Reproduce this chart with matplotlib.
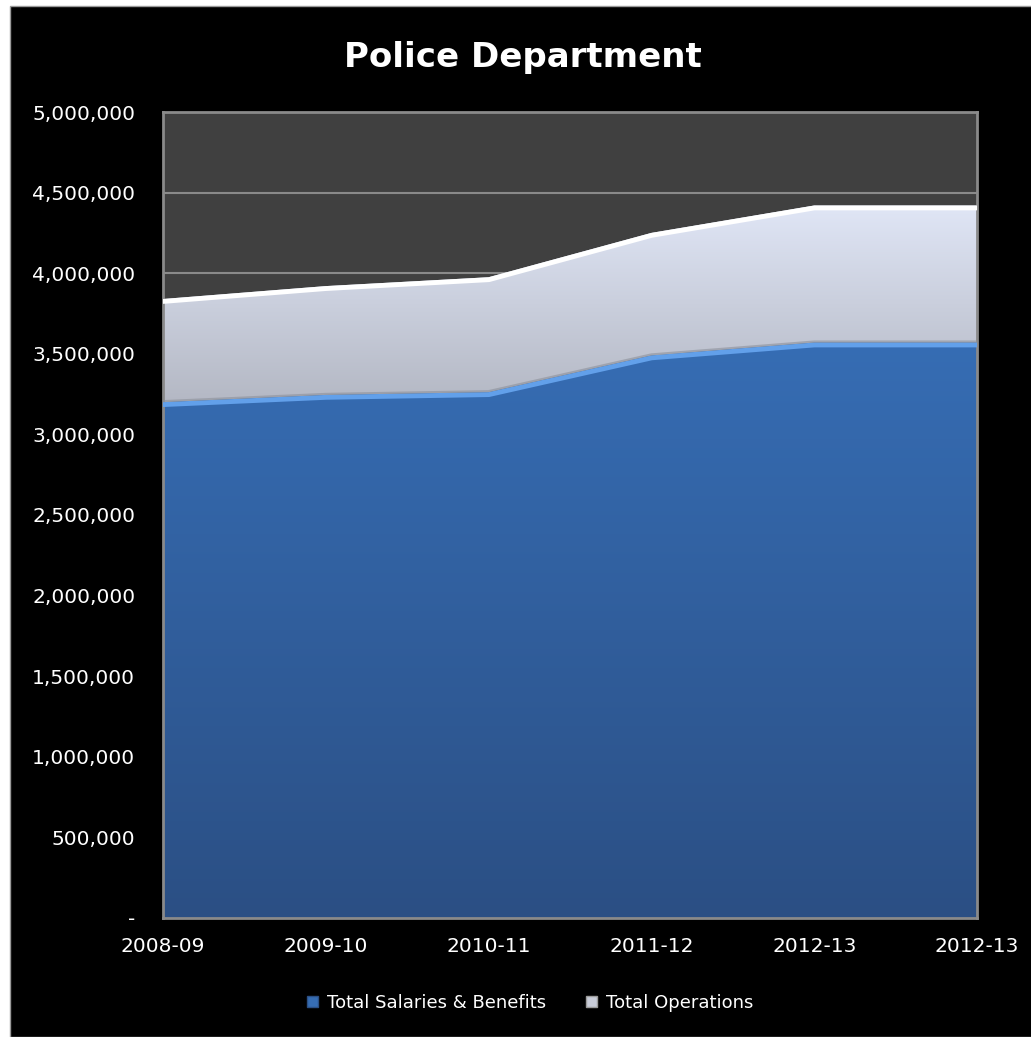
import numpy as np
import matplotlib.pyplot as plt
from matplotlib.colors import to_rgb
from matplotlib.patches import Patch, Rectangle
from matplotlib.ticker import FuncFormatter

years = ["2008-09", "2009-10", "2010-11", "2011-12", "2012-13", "2012-13"]
salaries = [3200000, 3245000, 3262000, 3490000, 3570000, 3570000]
operations = [640000, 675000, 713000, 760000, 850000, 850000]

BLUE_TOP, BLUE_BOT = "#366db4", "#2b4f84"
OPS_TOP, OPS_BOT = "#e0e6f6", "#b4b8c4"


def gradient_fill(ax, x, lower, upper, c_top, c_bot, edge, shadow=None):
    poly = ax.fill_between(x, lower, upper, facecolor="none", edgecolor="none", zorder=2)
    path = poly.get_paths()[0]
    hi, lo = max(upper), min(lower)
    grad = np.linspace(0, 1, 256).reshape(-1, 1, 1)
    ct, cb = np.array(to_rgb(c_top)), np.array(to_rgb(c_bot))
    img = cb + (ct - cb) * grad * np.ones((1, 2, 3))
    im = ax.imshow(img, extent=[x[0], x[-1], lo, hi], origin="lower",
                   aspect="auto", zorder=2)
    im.set_clip_path(path, transform=ax.transData)
    # bevel highlight along the top edge, clipped so only the inside half shows
    ln, = ax.plot(x, upper, color=edge, lw=7, zorder=3, solid_joinstyle="miter")
    ln.set_clip_path(path, transform=ax.transData)
    if shadow is not None:
        sh, = ax.plot(x, lower, color=shadow, lw=3, alpha=0.6, zorder=3)
        sh.set_clip_path(path, transform=ax.transData)


fig = plt.figure(figsize=(10.31, 10.37), dpi=100, facecolor="white")
fig.patches.append(Rectangle((10 / 1031, 0), 1, 1 - 6 / 1037, transform=fig.transFigure,
                             facecolor="black", edgecolor="#9a9a9a", lw=1, zorder=-1))
ax = fig.add_axes([163 / 1031, 1 - 918 / 1037, (977 - 163) / 1031, (918 - 112) / 1037])
ax.set_facecolor("#404040")

x = np.arange(len(years))
sal = np.array(salaries, dtype=float)
tot = sal + np.array(operations, dtype=float)

gradient_fill(ax, x, np.zeros_like(sal), sal, BLUE_TOP, BLUE_BOT, "#62a0ea")
gradient_fill(ax, x, sal, tot, OPS_TOP, OPS_BOT, "#ffffff", shadow="#8c909a")

ax.set_xlim(0, len(years) - 1)
ax.set_ylim(0, 5000000)
ax.set_yticks(np.arange(0, 5000001, 500000))
ax.yaxis.set_major_formatter(FuncFormatter(lambda v, p: "-" if v == 0 else f"{v:,.0f}"))
ax.set_xticks(x)
ax.set_xticklabels(years)
ax.grid(axis="y", color="#8a8a8a", lw=1.5, zorder=1)
ax.set_axisbelow(True)
for s in ax.spines.values():
    s.set_color("#8a8a8a")
    s.set_linewidth(2)
ax.tick_params(colors="white", labelsize=14.5, length=0, pad=20)
ax.tick_params(axis="x", pad=14)

fig.text(0.507, 1 - 57 / 1037, "Police Department", color="white", fontsize=24.5,
         fontweight="bold", ha="center", va="center")

handles = [Patch(facecolor=BLUE_TOP, edgecolor="#2b4f84", label="Total Salaries & Benefits"),
           Patch(facecolor="#c8ccd8", edgecolor="#9a9a9a", label="Total Operations")]
fig.legend(handles=handles, loc="center", bbox_to_anchor=(0.514, 1 - 1003 / 1037),
           ncol=2, frameon=False, fontsize=13, labelcolor="white",
           handlelength=0.6, handleheight=0.6, handletextpad=0.5, columnspacing=2.2)

fig.savefig("out.png", dpi=100, facecolor=fig.get_facecolor())
